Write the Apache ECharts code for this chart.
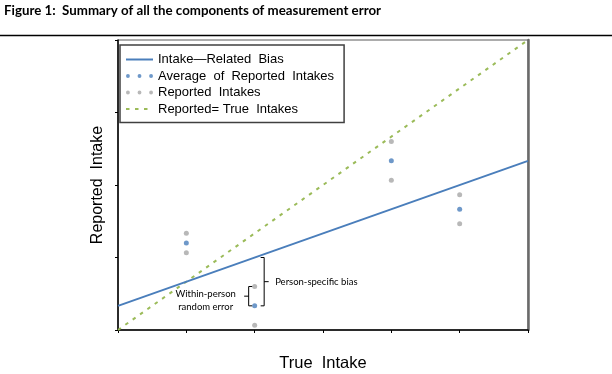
<!DOCTYPE html>
<html>
<head>
<meta charset="utf-8">
<script src="https://cdn.jsdelivr.net/npm/echarts@6/dist/echarts.min.js"></script>
<style>html,body{margin:0;padding:0;background:#fff;}#c{width:612px;height:374px;}</style>
</head>
<body>
<div id="c"></div>
<script>
// ---- data ----
const titleText = 'Figure 1:  Summary of all the components of measurement error';
const xName = 'True  Intake';
const yName = 'Reported  Intake';
const seriesNames = ['Intake\u2014Related  Bias', 'Average  of  Reported  Intakes', 'Reported  Intakes', 'Reported= True  Intakes'];
const biasLine = [[0, 0.5], [6, 3.5]];
const identityLine = [[0, 0], [6, 6]];
const averagePoints = [[1, 1.8], [2, 0.5], [4, 3.5], [5, 2.5]];
const reportedPoints = [[1, 2.0], [1, 1.6], [2, 0.9], [2, 0.1], [4, 3.9], [4, 3.1], [5, 2.8], [5, 2.2]];
const bracketSpans = [[2, 1.5, 0.5], [2, 0.9, 0.5]];
const bracketLabels = ['Person-specific bias', 'Within-person\nrandom error'];
const bracketSides = ['right', 'left'];
const xTicks = {min: 0, max: 6, interval: 1};
const yTicks = {min: 0, max: 6, interval: 1.5};

const BLUE = '#4a7ebb', GRAY = '#a6a6a6', GREEN = '#9bbb59';
const dots = 'path://M0 2A2 2 0 1 0 4 2A2 2 0 1 0 0 2ZM12 2A2 2 0 1 0 16 2A2 2 0 1 0 12 2ZM24 2A2 2 0 1 0 28 2A2 2 0 1 0 24 2Z';

const chart = echarts.init(document.getElementById('c'), null, {renderer: 'canvas'});
chart.setOption({
  animation: false,
  backgroundColor: '#fff',
  title: {
    text: titleText, left: 4, top: 4, padding: 0,
    textStyle: {fontFamily: 'Lato', fontWeight: 'bold', fontSize: 13.3, color: '#000'}
  },
  graphic: [
    {type: 'line', shape: {x1: 0, y1: 35.5, x2: 612, y2: 35.5}, style: {stroke: '#000', lineWidth: 1.5}, z: 10}
  ],
  grid: {left: 118, right: 84, top: 40, bottom: 44, show: true, borderColor: '#5a5a5a', borderWidth: 1, containLabel: false, outerBoundsMode: 'none'},
  legend: {
    orient: 'vertical', left: 120, top: 45,
    padding: [8, 10, 7, 5],
    itemGap: 3.5, itemWidth: 27, itemHeight: 4,
    borderColor: '#404040', borderWidth: 1.5, backgroundColor: '#fff',
    textStyle: {fontFamily: 'Liberation Sans', fontSize: 13, color: '#000'},
    data: [
      {name: seriesNames[0]},
      {name: seriesNames[1], icon: dots},
      {name: seriesNames[2], icon: dots},
      {name: seriesNames[3]}
    ]
  },
  xAxis: {
    type: 'value', min: xTicks.min, max: xTicks.max, interval: xTicks.interval,
    name: xName, nameLocation: 'middle', nameGap: 25,
    nameTextStyle: {fontFamily: 'Liberation Sans', fontSize: 16.5, color: '#000'},
    axisLine: {onZero: false, lineStyle: {color: '#000', width: 1.5}},
    axisTick: {show: true, inside: false, length: 3, lineStyle: {color: '#000', width: 1}},
    axisLabel: {show: false}, splitLine: {show: false}
  },
  yAxis: [{
    type: 'value', min: yTicks.min, max: yTicks.max, interval: yTicks.interval,
    name: yName, nameLocation: 'middle', nameGap: 12, nameRotate: 90,
    nameTextStyle: {fontFamily: 'Liberation Sans', fontSize: 16, color: '#000'},
    axisLine: {onZero: false, lineStyle: {color: '#000', width: 1.5}},
    axisTick: {show: true, inside: false, length: 3, lineStyle: {color: '#000', width: 1}},
    axisLabel: {show: false}, splitLine: {show: false}
  }, {
    type: 'value', position: 'right', min: yTicks.min, max: yTicks.max,
    axisLine: {show: true, onZero: false, lineStyle: {color: '#6a6a6a', width: 2.5}},
    axisTick: {show: false}, axisLabel: {show: false}, splitLine: {show: false}
  }],
  series: [
    {name: seriesNames[0], type: 'line', data: biasLine, symbol: 'none', lineStyle: {color: BLUE, width: 2}, itemStyle: {color: BLUE, opacity: 0}, z: 3},
    {name: seriesNames[1], type: 'scatter', data: averagePoints, symbolSize: 5, itemStyle: {color: BLUE}, z: 4},
    {name: seriesNames[2], type: 'scatter', data: reportedPoints, symbolSize: 5, itemStyle: {color: GRAY}, z: 4},
    {name: seriesNames[3], type: 'line', data: identityLine, symbol: 'none', lineStyle: {color: GREEN, width: 2, type: [3.5, 5.5]}, itemStyle: {color: GREEN, opacity: 0}, z: 2},
    {
      name: 'brackets', type: 'custom', data: bracketSpans, silent: true, z: 5,
      renderItem: function (params, api) {
        const i = params.dataIndex;
        const p1 = api.coord([api.value(0), api.value(1)]);
        const p2 = api.coord([api.value(0), api.value(2)]);
        const mid = (p1[1] + p2[1]) / 2;
        const right = bracketSides[i] === 'right';
        const bx = right ? p1[0] + 9.5 : p1[0] - 6;
        const s = right ? -1 : 1;
        const stroke = {stroke: '#000', lineWidth: 1, fill: null};
        const children = [
          {type: 'polyline', shape: {points: [[bx + 3.5 * s, p1[1]], [bx, p1[1]], [bx, p2[1]], [bx + 3.5 * s, p2[1]]]}, style: stroke},
          {type: 'line', shape: {x1: bx, y1: mid, x2: bx - 4.5 * s, y2: mid}, style: stroke}
        ];
        if (right) {
          children.push({type: 'text', style: {text: bracketLabels[i], x: bx + 11, y: mid, textVerticalAlign: 'middle', textAlign: 'left', fontFamily: 'Lato', fontSize: 9.5, fill: '#000'}});
        } else {
          children.push({type: 'text', style: {text: bracketLabels[i], x: bx - 43, y: mid + 4, textVerticalAlign: 'middle', textAlign: 'center', fontFamily: 'Lato', fontSize: 9.5, lineHeight: 13, fill: '#000'}});
        }
        return {type: 'group', children: children};
      }
    }
  ]
});
</script>
</body>
</html>
